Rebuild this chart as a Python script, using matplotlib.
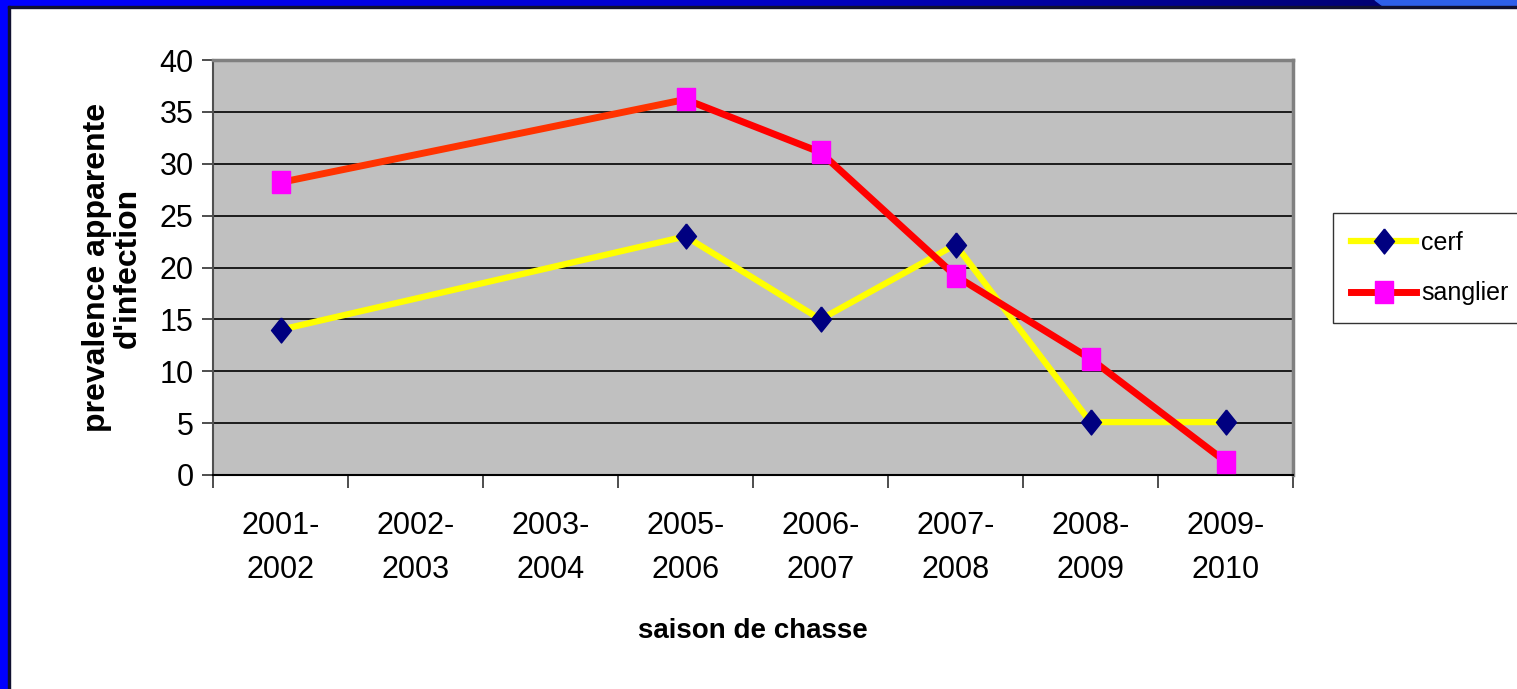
import matplotlib.pyplot as plt
import numpy as np
from matplotlib.patches import Rectangle, Polygon
from matplotlib.lines import Line2D

plt.rcParams['font.family'] = ['Liberation Sans', 'DejaVu Sans']

# Donnees
saisons = ['2001-\n2002', '2002-\n2003', '2003-\n2004', '2005-\n2006',
           '2006-\n2007', '2007-\n2008', '2008-\n2009', '2009-\n2010']
cerf = [14.0, np.nan, np.nan, 23.0, 15.0, 22.2, 5.1, 5.1]
sanglier = [28.2, np.nan, np.nan, 36.2, 31.1, 19.2, 11.2, 1.3]
yticks = [0, 5, 10, 15, 20, 25, 30, 35, 40]

fig = plt.figure(figsize=(15.17, 6.89), dpi=100)

# cadre bleu (fond de diapositive)
bar = fig.add_axes([0, 1 - 6 / 689, 1, 6 / 689])
grad = np.linspace(0, 1, 256)[None, :]
bar.imshow(grad, aspect='auto', cmap=plt.matplotlib.colors.LinearSegmentedColormap.from_list(
    'b', ['#0000FF', '#0000C8', '#000060']), extent=[0, 1, 0, 1])
bar.add_patch(Polygon([[1383 / 1517, 0], [1375 / 1517, 1], [1, 1], [1, 0]], color='#2D5FEA'))
bar.set_xlim(0, 1)
bar.set_ylim(0, 1)
bar.axis('off')
fig.patches.append(Rectangle((0, 0), 8 / 1517, 1, transform=fig.transFigure, color='#0000FF', zorder=0))
fig.patches.append(Rectangle((8 / 1517, 0), 1.5 / 1517, 1 - 6 / 689, transform=fig.transFigure,
                             color='#101030', zorder=0))
fig.patches.append(Rectangle((8 / 1517, 1 - 7.5 / 689), 1, 1.5 / 689, transform=fig.transFigure,
                             color='#101030', zorder=0))

ax = fig.add_axes([213 / 1517, 214 / 689, 1080 / 1517, 415 / 689])
ax.set_facecolor('#C0C0C0')
x = np.arange(len(saisons))

diamant = [(0, 0.5), (0.4, 0), (0, -0.5), (-0.4, 0), (0, 0.5)]
carre = [(-0.41, -0.5), (0.41, -0.5), (0.41, 0.5), (-0.41, 0.5), (-0.41, -0.5)]

# saisons manquantes : on relie les points valides
mc = ~np.isnan(cerf)
ms = ~np.isnan(sanglier)
ax.plot(x[mc], np.array(cerf)[mc], color='#FFFF00', lw=4.5, zorder=3,
        marker=diamant, markersize=18, markerfacecolor='#000080', markeredgecolor='#000080')
ax.plot(x[ms][:2], np.array(sanglier)[ms][:2], color='#FF3300', lw=5, zorder=3)
ax.plot(x[ms][1:], np.array(sanglier)[ms][1:], color='#FF0000', lw=5, zorder=3)
ax.plot(x[ms], np.array(sanglier)[ms], ls='none', zorder=4,
        marker=carre, markersize=16, markerfacecolor='#FF00FF', markeredgecolor='#FF00FF')

ax.set_xlim(-0.5, len(saisons) - 0.5)
ax.set_ylim(0, 40)
ax.set_yticks(yticks)
ax.set_yticklabels([str(v) for v in yticks], fontsize=22)
ax.yaxis.grid(True, color='black', lw=1.2)
ax.set_axisbelow(True)
ax.set_xticks(x)
ax.set_xticklabels(saisons, fontsize=22, linespacing=1.6)
ax.set_xticks(np.arange(len(saisons) + 1) - 0.5, minor=True)
ax.tick_params(axis='x', which='major', length=0, pad=26)
ax.tick_params(axis='x', which='minor', length=9, width=1.2, color='#303030')
ax.tick_params(axis='y', length=8, width=1.2, color='#303030', pad=6)

for s in ['top', 'right']:
    ax.spines[s].set_color('#808080')
    ax.spines[s].set_linewidth(2.5)
ax.spines['left'].set_color('#505050')
ax.spines['left'].set_linewidth(1.5)
ax.spines['bottom'].set_color('black')
ax.spines['bottom'].set_linewidth(1.5)

ax.set_xlabel('saison de chasse', fontsize=20, fontweight='bold', labelpad=24)
ax.set_ylabel("prevalence apparente\nd'infection", fontsize=23, fontweight='bold', labelpad=12,
              linespacing=1.02)

handles = [
    Line2D([], [], color='#FFFF00', lw=4.5, marker=diamant, markersize=18,
           markerfacecolor='#000080', markeredgecolor='#000080'),
    Line2D([], [], color='#FF0000', lw=5, marker=carre, markersize=16,
           markerfacecolor='#FF00FF', markeredgecolor='#FF00FF'),
]
leg = fig.legend(handles, ['cerf', 'sanglier'], loc='upper left',
                 bbox_to_anchor=(1333 / 1517, 1 - 213 / 689), fontsize=18,
                 frameon=True, fancybox=False, edgecolor='black', handlelength=2.6,
                 handletextpad=0.2, borderpad=0.72, labelspacing=1.05, borderaxespad=0)
leg.get_frame().set_linewidth(1.0)

fig.savefig('out.png', dpi=100)
